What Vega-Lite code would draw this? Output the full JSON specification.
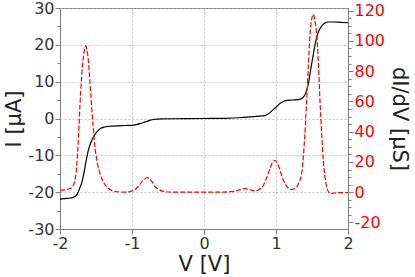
{
  "$schema": "https://vega.github.io/schema/vega-lite/v6.json",
  "width": 288,
  "height": 221,
  "autosize": {"type": "none"},
  "padding": {"left": 60, "top": 8, "right": 67, "bottom": 48},
  "config": {
    "font": "DejaVu Sans",
    "view": {"stroke": "#808080", "strokeWidth": 1},
    "axis": {
      "labelFont": "DejaVu Sans",
      "titleFont": "DejaVu Sans",
      "labelFontSize": 16,
      "titleFontSize": 21,
      "titleFontWeight": "normal",
      "labelColor": "#333333",
      "titleColor": "#222222",
      "domainColor": "#808080",
      "tickColor": "#808080",
      "gridColor": "#b0b0b0",
      "gridDash": [2, 2],
      "gridWidth": 0.8,
      "labelFlush": false
    }
  },
  "datasets": {
    "iv": [
      {"V": -2.0, "I": -21.9}, {"V": -1.9, "I": -21.7}, {"V": -1.815, "I": -21.4}, {"V": -1.77, "I": -20.8},
      {"V": -1.745, "I": -19.9}, {"V": -1.72, "I": -18.6}, {"V": -1.7, "I": -17.6}, {"V": -1.675, "I": -15.5},
      {"V": -1.653, "I": -13.2}, {"V": -1.63, "I": -10.8}, {"V": -1.606, "I": -8.6}, {"V": -1.57, "I": -6.5},
      {"V": -1.537, "I": -5.0}, {"V": -1.49, "I": -3.7}, {"V": -1.444, "I": -2.8}, {"V": -1.38, "I": -2.3},
      {"V": -1.306, "I": -2.1}, {"V": -1.1, "I": -1.9}, {"V": -1.0, "I": -1.85}, {"V": -0.93, "I": -1.6},
      {"V": -0.889, "I": -1.4}, {"V": -0.84, "I": -1.1}, {"V": -0.796, "I": -0.8}, {"V": -0.75, "I": -0.5},
      {"V": -0.704, "I": -0.27}, {"V": -0.6, "I": -0.1}, {"V": -0.3, "I": -0.05}, {"V": 0.0, "I": 0.0},
      {"V": 0.3, "I": 0.05}, {"V": 0.5, "I": 0.2}, {"V": 0.6, "I": 0.35}, {"V": 0.685, "I": 0.5},
      {"V": 0.8, "I": 0.7}, {"V": 0.847, "I": 0.8}, {"V": 0.88, "I": 1.1}, {"V": 0.917, "I": 1.6},
      {"V": 0.96, "I": 2.4}, {"V": 1.009, "I": 3.2}, {"V": 1.05, "I": 4.0}, {"V": 1.102, "I": 4.6},
      {"V": 1.15, "I": 4.9}, {"V": 1.194, "I": 5.0}, {"V": 1.26, "I": 5.05}, {"V": 1.333, "I": 5.2},
      {"V": 1.38, "I": 5.8}, {"V": 1.41, "I": 6.8}, {"V": 1.426, "I": 7.6}, {"V": 1.45, "I": 9.5},
      {"V": 1.472, "I": 12.1}, {"V": 1.495, "I": 14.8}, {"V": 1.519, "I": 17.5}, {"V": 1.54, "I": 19.8},
      {"V": 1.565, "I": 22.0}, {"V": 1.6, "I": 24.0}, {"V": 1.634, "I": 25.1}, {"V": 1.68, "I": 25.9},
      {"V": 1.727, "I": 26.2}, {"V": 1.8, "I": 26.2}, {"V": 1.9, "I": 26.1}, {"V": 2.0, "I": 26.0}
    ],
    "didv": [
      {"V": -2.0, "G": 1.3}, {"V": -1.93, "G": 1.6}, {"V": -1.861, "G": 2.4}, {"V": -1.83, "G": 3.5},
      {"V": -1.815, "G": 4.6}, {"V": -1.79, "G": 8.5}, {"V": -1.769, "G": 16.6}, {"V": -1.745, "G": 35},
      {"V": -1.722, "G": 58}, {"V": -1.7, "G": 76}, {"V": -1.676, "G": 89}, {"V": -1.655, "G": 95},
      {"V": -1.639, "G": 96.7}, {"V": -1.625, "G": 94}, {"V": -1.606, "G": 86.8}, {"V": -1.585, "G": 73},
      {"V": -1.56, "G": 56}, {"V": -1.537, "G": 42}, {"V": -1.514, "G": 29.8}, {"V": -1.48, "G": 19},
      {"V": -1.444, "G": 12.3}, {"V": -1.4, "G": 7}, {"V": -1.352, "G": 3.5}, {"V": -1.28, "G": 1.2},
      {"V": -1.213, "G": 0.3}, {"V": -1.1, "G": 0.1}, {"V": -1.028, "G": 0.4}, {"V": -0.96, "G": 1.8},
      {"V": -0.912, "G": 3.9}, {"V": -0.85, "G": 7.5}, {"V": -0.787, "G": 9.6}, {"V": -0.73, "G": 7.5},
      {"V": -0.681, "G": 3.9}, {"V": -0.62, "G": 1.6}, {"V": -0.565, "G": 0.6}, {"V": -0.45, "G": 0.1},
      {"V": -0.2, "G": 0}, {"V": 0.0, "G": 0}, {"V": 0.2, "G": 0}, {"V": 0.35, "G": 0.3},
      {"V": 0.454, "G": 0.9}, {"V": 0.52, "G": 2.0}, {"V": 0.569, "G": 2.4}, {"V": 0.63, "G": 1.8},
      {"V": 0.708, "G": 0.9}, {"V": 0.77, "G": 2.0}, {"V": 0.824, "G": 4.6}, {"V": 0.87, "G": 9.5},
      {"V": 0.917, "G": 15.6}, {"V": 0.95, "G": 19.5}, {"V": 0.986, "G": 21}, {"V": 1.02, "G": 19},
      {"V": 1.056, "G": 14.5}, {"V": 1.09, "G": 9.5}, {"V": 1.125, "G": 5.7}, {"V": 1.17, "G": 2.8},
      {"V": 1.218, "G": 1.8}, {"V": 1.25, "G": 2.2}, {"V": 1.287, "G": 3.5}, {"V": 1.32, "G": 6.5},
      {"V": 1.356, "G": 12.3}, {"V": 1.39, "G": 30}, {"V": 1.426, "G": 60.5}, {"V": 1.45, "G": 84},
      {"V": 1.472, "G": 104}, {"V": 1.495, "G": 114}, {"V": 1.519, "G": 117.6}, {"V": 1.542, "G": 113},
      {"V": 1.565, "G": 104}, {"V": 1.59, "G": 84}, {"V": 1.611, "G": 60.5}, {"V": 1.635, "G": 38},
      {"V": 1.657, "G": 21}, {"V": 1.68, "G": 10}, {"V": 1.704, "G": 3.5}, {"V": 1.728, "G": 0.3},
      {"V": 1.75, "G": -0.9}, {"V": 1.78, "G": -0.8}, {"V": 1.82, "G": -0.5}, {"V": 1.9, "G": -0.3},
      {"V": 2.0, "G": -0.2}
    ]
  },
  "layer": [
    {
      "data": {"name": "iv"},
      "mark": {"type": "line", "color": "black", "strokeWidth": 1.2, "interpolate": "monotone"},
      "encoding": {
        "x": {
          "field": "V", "type": "quantitative",
          "scale": {"domain": [-2, 2], "nice": false},
          "axis": {
            "title": "V [V]",
            "values": [-2, -1.5, -1, -0.5, 0, 0.5, 1, 1.5, 2],
            "labelExpr": "datum.value % 1 === 0 ? toString(datum.value) : ''",
            "tickSize": {"condition": {"test": "datum.value % 1 === 0", "value": 5}, "value": 3},
            "gridOpacity": {"condition": {"test": "datum.value % 1 === 0", "value": 1}, "value": 0},
            "labelPadding": 1,
            "titlePadding": 2
          }
        },
        "y": {
          "field": "I", "type": "quantitative",
          "scale": {"domain": [-30, 30], "nice": false},
          "axis": {
            "title": "I [µA]",
            "orient": "left",
            "values": [-30, -25, -20, -15, -10, -5, 0, 5, 10, 15, 20, 25, 30],
            "labelExpr": "datum.value % 10 === 0 ? toString(datum.value) : ''",
            "tickSize": {"condition": {"test": "datum.value % 10 === 0", "value": 5}, "value": 3},
            "gridOpacity": {"condition": {"test": "datum.value % 10 === 0", "value": 1}, "value": 0},
            "labelPadding": 1,
            "titlePadding": 3
          }
        }
      }
    },
    {
      "data": {"name": "didv"},
      "mark": {"type": "line", "color": "#ff0000", "strokeWidth": 1.2, "strokeDash": [5, 2], "interpolate": "monotone"},
      "encoding": {
        "x": {"field": "V", "type": "quantitative"},
        "y": {
          "field": "G", "type": "quantitative",
          "scale": {"domain": [-24.3, 121.7], "nice": false, "zero": false},
          "axis": {
            "title": "dI/dV [µS]",
            "orient": "right",
            "grid": false,
            "values": [-20, -15, -10, -5, 0, 5, 10, 15, 20, 25, 30, 35, 40, 45, 50, 55, 60, 65, 70, 75, 80, 85, 90, 95, 100, 105, 110, 115, 120],
            "labelExpr": "datum.value % 20 === 0 ? toString(datum.value) : ''",
            "labelColor": "#ff0000",
            "tickSize": {"condition": {"test": "datum.value % 20 === 0", "value": 5}, "value": 3},
            "labelPadding": 1,
            "titlePadding": 4
          }
        }
      }
    }
  ],
  "resolve": {"scale": {"y": "independent"}}
}
